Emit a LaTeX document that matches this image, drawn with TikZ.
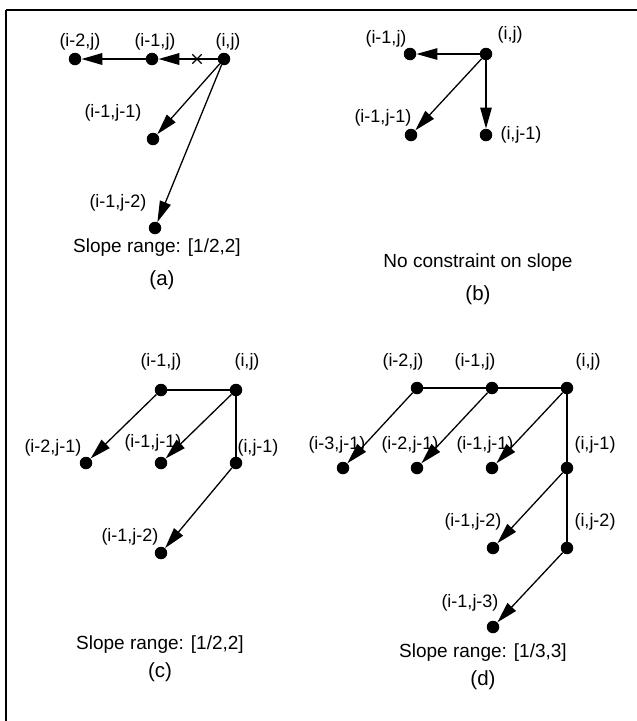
\documentclass[tikz,border=0pt]{standalone}
\usepackage{fontspec}
\setmainfont{Liberation Sans}
\usepackage{xcolor}
\usetikzlibrary{arrows.meta, shapes.misc}

\begin{document}
\begin{tikzpicture}[x=1pt, y=-1pt,
	punto/.style={circle, fill, inner sep=0pt, minimum size=12.5pt},
	etiq/.style={font=\fontsize{18}{21}\selectfont, inner sep=0pt},
	titulo/.style={font=\fontsize{19}{23}\selectfont, inner sep=0pt},
	letra/.style={font=\fontsize{20.5}{24}\selectfont, inner sep=0pt},
	flecha/.style={-{Triangle[length=21pt,width=11.5pt]}, line width=1.3pt},
	linea/.style={line width=1.3pt}]
			\useasboundingbox (0,0) rectangle (637,721);
			
			% Marco
			\draw[line width=2pt] (6,10) -- (637,10);
			\draw[line width=1.4pt] (6,10) -- (6,721);
			
			% (a)
			\node[punto] (a-ij) at (224,59) {};
			\node[punto] (a-i1j) at (152,59) {};
			\node[punto] (a-i2j) at (75,59) {};
			\node[punto] (a-i1j1) at (153,139) {};
			\node[punto] (a-i1j2) at (155,228) {};
			\node[cross out, draw, line width=1.4pt, minimum size=8pt, inner sep=0pt] (a-x) at (197,59) {};
			\node[etiq] (la-ij) at (228,42) {(i,j)};
			\node[etiq] (la-i1j) at (155,42) {(i-1,j)};
			\node[etiq] (la-i2j) at (80,42) {(i-2,j)};
			\node[etiq] (la-i1j1) at (113,113) {(i-1,j-1)};
			\node[etiq] (la-i1j2) at (118,203) {(i-1,j-2)};
			\draw[flecha, line width=2pt] (a-ij) -- (a-i1j);
			\draw[flecha, line width=2pt] (a-i1j) -- (a-i2j);
			\draw[flecha] (a-ij) -- (a-i1j1);
			\draw[flecha] (a-ij) -- (a-i1j2);
			\node[titulo] (ta) at (157,248) {Slope range: [1/2,2]};
			\node[letra] (na) at (162,280) {(a)};
			
			% (b)
			\node[punto] (b-ij) at (486,54) {};
			\node[punto] (b-i1j) at (410,54) {};
			\node[punto] (b-i1j1) at (411,135) {};
			\node[punto] (b-ij1) at (486,135) {};
			\node[etiq] (lb-ij) at (510,35) {(i,j)};
			\node[etiq] (lb-i1j) at (386,39) {(i-1,j)};
			\node[etiq] (lb-i1j1) at (383,118) {(i-1,j-1)};
			\node[etiq] (lb-ij1) at (521,135) {(i,j-1)};
			\draw[flecha] (b-ij) -- (b-i1j);
			\draw[flecha] (b-ij) -- (b-i1j1);
			\draw[flecha] (b-ij) -- (b-ij1);
			\node[titulo] (tb) at (478,263) {No constraint on slope};
			\node[letra] (nb) at (478,295) {(b)};
			
			% (c)
			\node[punto] (c-i1j) at (161,390) {};
			\node[punto] (c-ij) at (236,390) {};
			\node[punto] (c-i2j1) at (86,463) {};
			\node[punto] (c-i1j1) at (161,463) {};
			\node[punto] (c-ij1) at (236,463) {};
			\node[punto] (c-i1j2) at (161,553) {};
			\node[etiq] (lc-i1j) at (161,362) {(i-1,j)};
			\node[etiq] (lc-ij) at (247,362) {(i,j)};
			\node[etiq] (lc-i2j1) at (53,448) {(i-2,j-1)};
			\node[etiq] (lc-i1j1) at (153,443) {(i-1,j-1)};
			\node[etiq] (lc-ij1) at (258,448) {(i,j-1)};
			\node[etiq] (lc-i1j2) at (130,537) {(i-1,j-2)};
			\draw[linea] (c-ij) -- (c-i1j);
			\draw[linea] (c-ij) -- (c-ij1);
			\draw[flecha] (c-i1j) -- (c-i2j1);
			\draw[flecha] (c-ij) -- (c-i1j1);
			\draw[flecha] (c-ij1) -- (c-i1j2);
			\node[titulo] (tc) at (160,645) {Slope range: [1/2,2]};
			\node[letra] (nc) at (160,672) {(c)};
			
			% (d)
			\node[punto] (d-i2j) at (417,388) {};
			\node[punto] (d-i1j) at (492,388) {};
			\node[punto] (d-ij) at (567,388) {};
			\node[punto] (d-i3j1) at (343,468) {};
			\node[punto] (d-i2j1) at (417,468) {};
			\node[punto] (d-i1j1) at (492,468) {};
			\node[punto] (d-ij1) at (567,468) {};
			\node[punto] (d-i1j2) at (493,548) {};
			\node[punto] (d-ij2) at (567,548) {};
			\node[punto] (d-i1j3) at (493,627) {};
			\node[etiq] (ld-i2j) at (403,362) {(i-2,j)};
			\node[etiq] (ld-i1j) at (475,362) {(i-1,j)};
			\node[etiq] (ld-ij) at (588,362) {(i,j)};
			\node[etiq] (ld-i3j1) at (337,445) {(i-3,j-1)};
			\node[etiq] (ld-i2j1) at (410,445) {(i-2,j-1)};
			\node[etiq] (ld-i1j1) at (485,445) {(i-1,j-1)};
			\node[etiq] (ld-ij1) at (595,445) {(i,j-1)};
			\node[etiq] (ld-i1j2) at (473,522) {(i-1,j-2)};
			\node[etiq] (ld-ij2) at (595,522) {(i,j-2)};
			\node[etiq] (ld-i1j3) at (470,603) {(i-1,j-3)};
			\draw[linea] (d-ij) -- (d-i1j) -- (d-i2j);
			\draw[linea] (d-ij) -- (d-ij1) -- (d-ij2);
			\draw[flecha] (d-i2j) -- (d-i3j1);
			\draw[flecha] (d-i1j) -- (d-i2j1);
			\draw[flecha] (d-ij) -- (d-i1j1);
			\draw[flecha] (d-ij1) -- (d-i1j2);
			\draw[flecha] (d-ij2) -- (d-i1j3);
			\node[titulo] (td) at (483,653) {Slope range: [1/3,3]};
			\node[letra] (nd) at (483,680) {(d)};
			\end{tikzpicture}
\end{document}
